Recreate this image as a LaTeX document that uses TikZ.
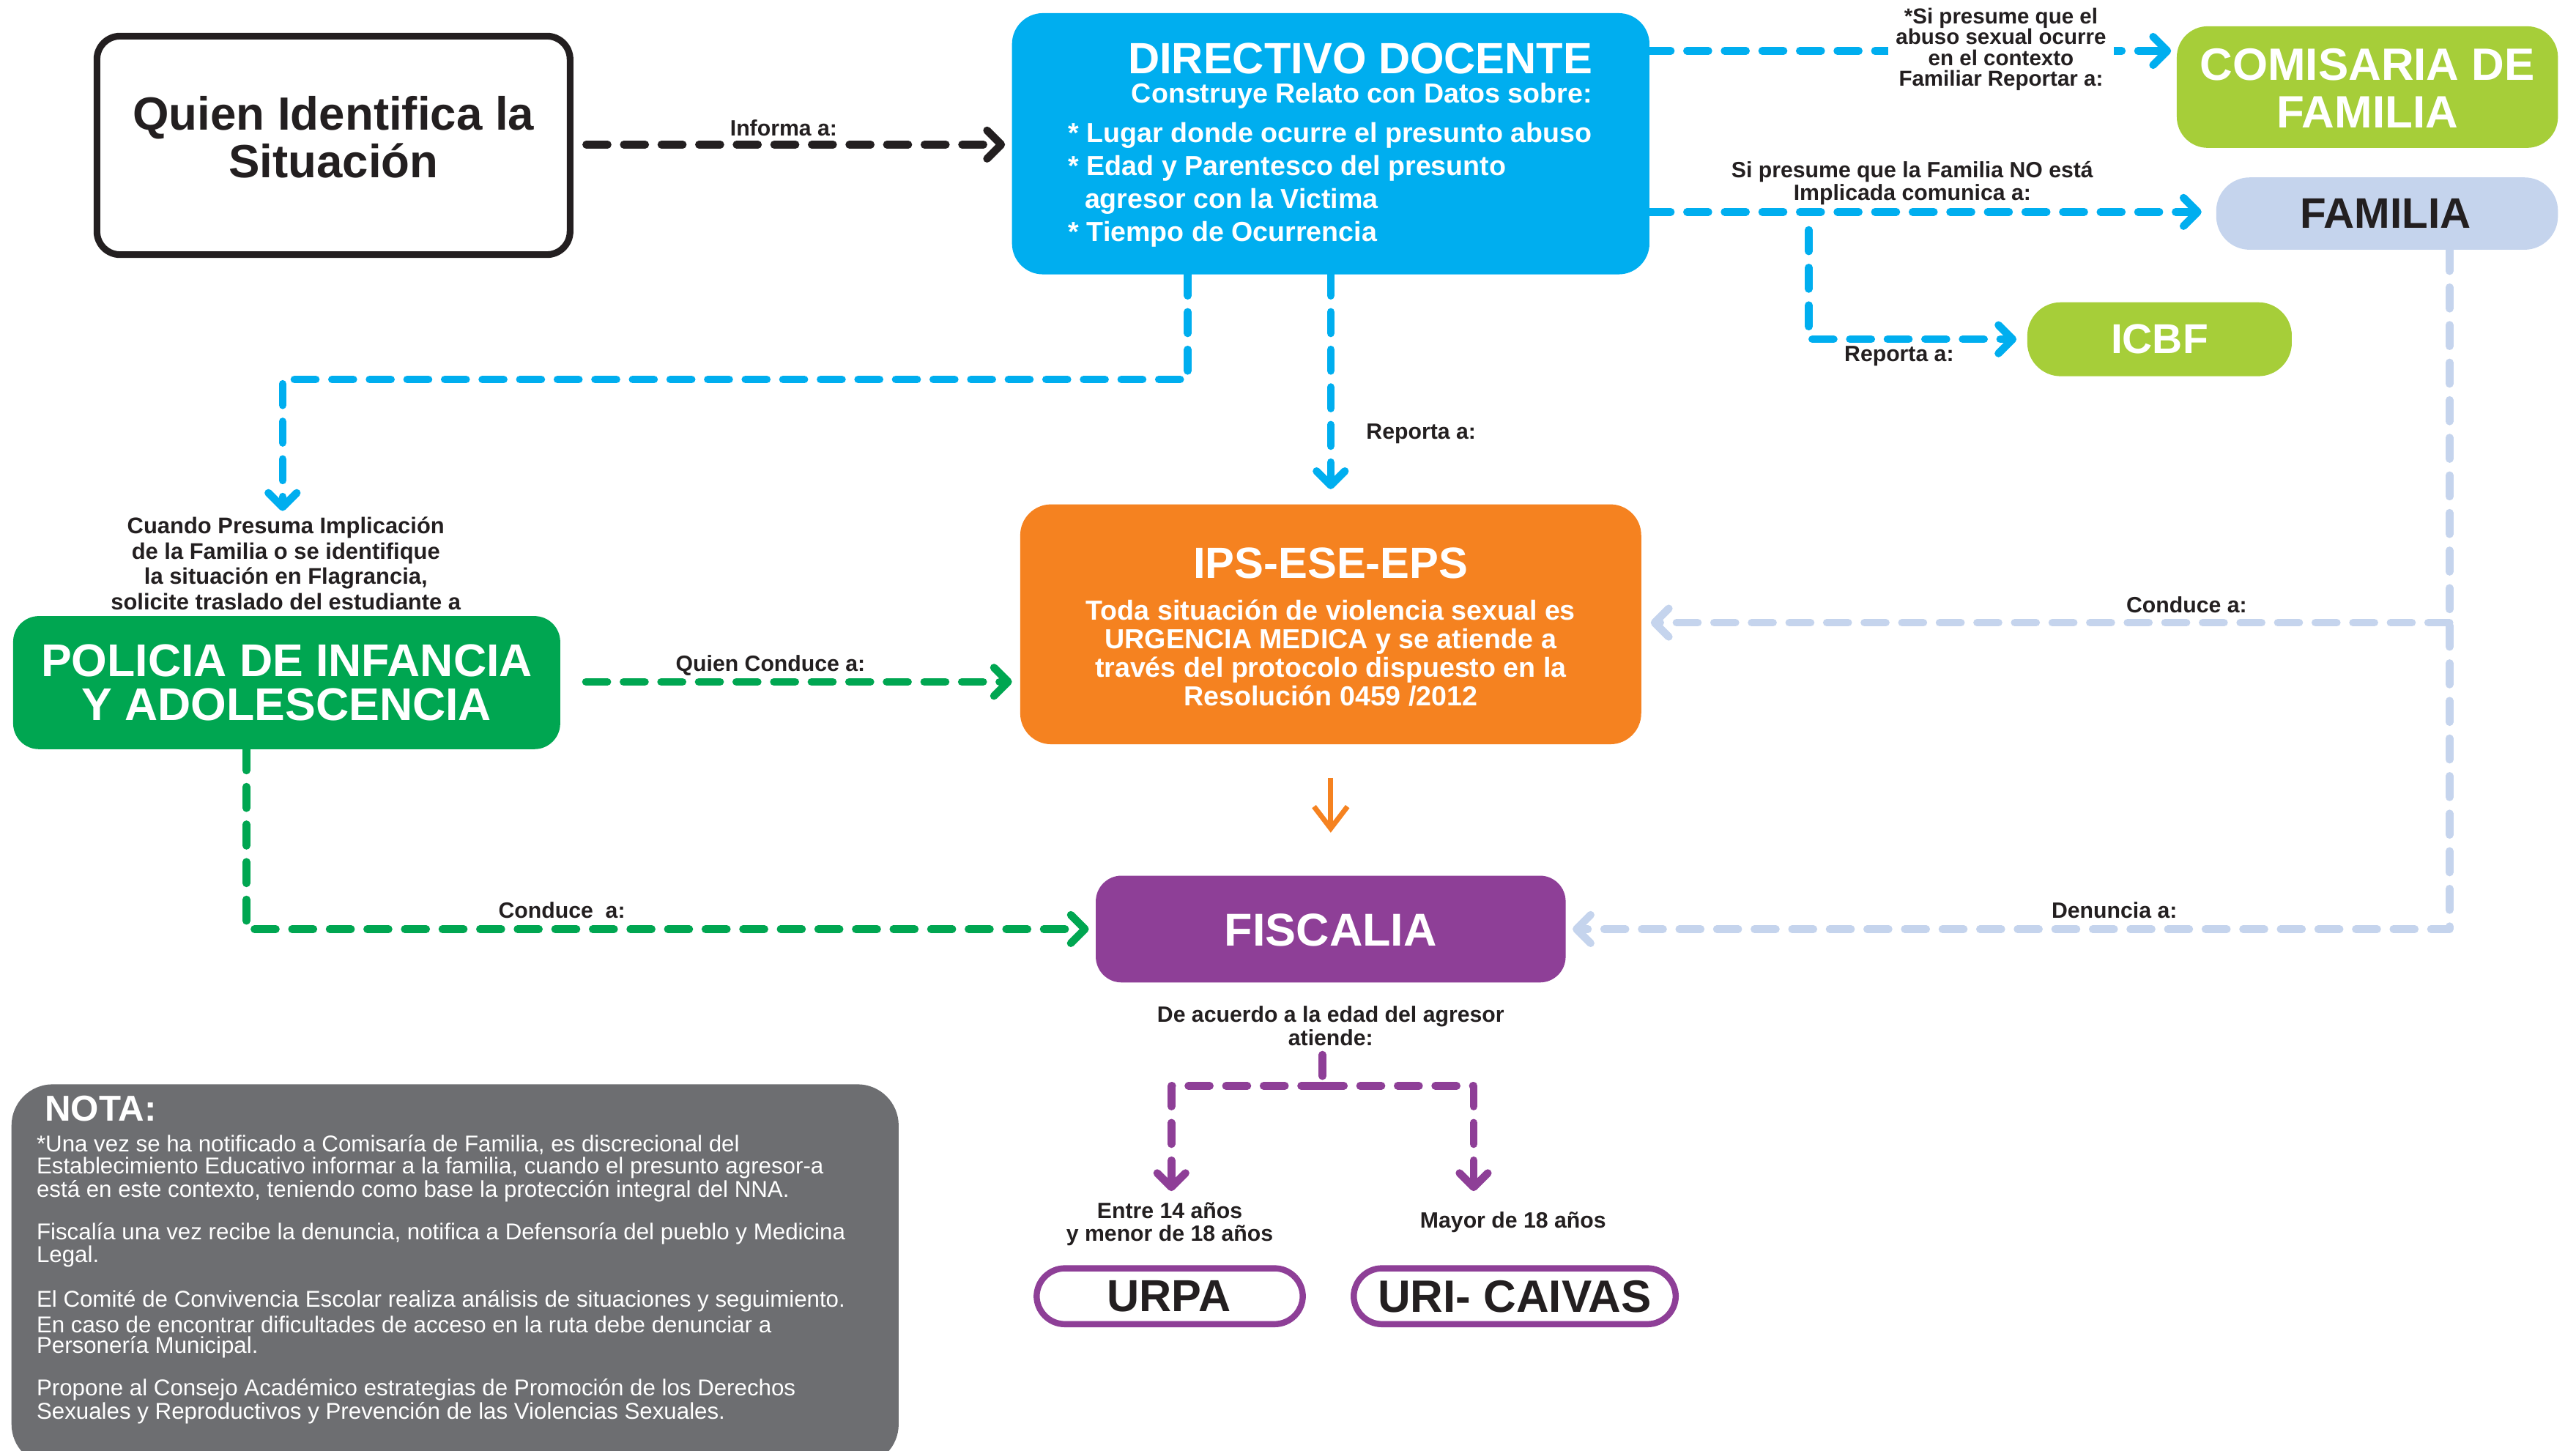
\documentclass[tikz,border=0pt]{standalone}
\usepackage{fontspec}
\setmainfont{Liberation Sans}
\usetikzlibrary{arrows.meta,fit}
\definecolor{cyanC}{HTML}{00AEEF}
\definecolor{limeC}{HTML}{A6CE39}
\definecolor{lblueC}{HTML}{C5D4ED}
\definecolor{orangeC}{HTML}{F58220}
\definecolor{greenC}{HTML}{00A651}
\definecolor{purpleC}{HTML}{8E3F97}
\definecolor{grayC}{HTML}{6D6E71}
\definecolor{inkC}{HTML}{231F20}
\newcommand\fsz[2]{\fontsize{#1}{#2}\selectfont}
\tikzset{
  flow/.style={line width=3pt, line cap=round, line join=round,
    dash pattern=on 8.3pt off 6.3pt,
    -{Straight Barb[round,length=5.5pt,width=11pt]}},
  lbl/.style={inner sep=0pt, text=inkC, align=center, font=\bfseries\fsz{8.6}{9.6}},
  wtxt/.style={inner sep=0pt, text=white, align=center},
  ktxt/.style={inner sep=0pt, text=inkC, align=center},
  panel/.style={inner sep=0pt, rounded corners=12pt, draw=none},
  outl/.style={inner sep=0pt, rounded corners=11pt, draw=purpleC, line width=2.4pt, fill=white},
  notatxt/.style={inner sep=0pt, anchor=west, text=white, font=\fsz{8.9}{10}},
}
\begin{document}
\begin{tikzpicture}[x=0.02243cm, y=-0.02243cm]
\useasboundingbox (0,0) rectangle (1568,883);

% ---------- boxes ----------
\node[fit={(59,22) (347,155)}, inner sep=0pt, rounded corners=9pt, draw=inkC, line width=2.6pt,
  fill=white] (quien) {};
\node[ktxt, font=\bfseries\fsz{18.1}{18.6}] (quienT) at (203,83.5) {Quien Identifica la\\Situación};

\node[panel, fill=cyanC, fit={(616,8) (1004,167)}] (dir) {};
\node[wtxt, font=\bfseries\fsz{17}{20}] (dirT) at (828,35.5) {DIRECTIVO DOCENTE};
\node[wtxt, font=\bfseries\fsz{10.7}{12}] (dirS) at (829,58.5) {Construye Relato con Datos sobre:};
\node[wtxt, anchor=west, font=\bfseries\fsz{10.7}{12}] (dirL1) at (650,82.5) {* Lugar donde ocurre el presunto abuso};
\node[wtxt, anchor=west, font=\bfseries\fsz{10.7}{12}] (dirL2) at (650,102.5) {* Edad y Parentesco del presunto};
\node[wtxt, anchor=west, font=\bfseries\fsz{10.7}{12}] (dirL3) at (660,122.5) {agresor con la Victima};
\node[wtxt, anchor=west, font=\bfseries\fsz{10.7}{12}] (dirL4) at (650,142.5) {* Tiempo de Ocurrencia};

\node[panel, fill=limeC, fit={(1325,16) (1557,90)}] (com) {};
\node[wtxt, font=\bfseries\fsz{17.6}{18.5}] (comT) at (1441,53.5) {COMISARIA DE\\FAMILIA};
\node[panel, fill=lblueC, rounded corners=13pt, fit={(1349,108) (1557,152)}] (fam) {};
\node[ktxt, font=\bfseries\fsz{16.6}{18}] (famT) at (1452,130) {FAMILIA};
\node[panel, fill=limeC, rounded corners=13pt, fit={(1234,184) (1395,229)}] (icbf) {};
\node[wtxt, font=\bfseries\fsz{16.2}{18}] (icbfT) at (1314.5,206.5) {ICBF};

\node[panel, fill=orangeC, fit={(621,307) (999,453)}] (ips) {};
\node[wtxt, font=\bfseries\fsz{17}{20}] (ipsT) at (810,343) {IPS-ESE-EPS};
\node[wtxt, font=\bfseries\fsz{10.7}{11.05}] (ipsB) at (810,397.5)
  {Toda situación de violencia sexual es\\URGENCIA MEDICA y se atiende a\\través del protocolo dispuesto en la\\Resolución 0459 /2012};

\node[panel, fill=greenC, rounded corners=10pt, fit={(8,375) (341,456)}] (pol) {};
\node[wtxt, font=\bfseries\fsz{17.8}{16.9}] (polT) at (174.5,415.5) {POLICIA DE INFANCIA\\Y ADOLESCENCIA};

\node[panel, fill=purpleC, rounded corners=10pt, fit={(667,533) (953,598)}] (fis) {};
\node[wtxt, font=\bfseries\fsz{17.9}{20}] (fisT) at (810,566) {FISCALIA};

\node[outl, fit={(631,772) (793,806)}] (urpa) {};
\node[ktxt, font=\bfseries\fsz{17.4}{20}] (urpaT) at (711.5,789) {URPA};
\node[outl, fit={(824,772) (1020,806)}] (uri) {};
\node[ktxt, font=\bfseries\fsz{17.6}{20}] (uriT) at (922,789) {URI- CAIVAS};

% ---------- nota ----------
\node[panel, fill=grayC, rounded corners=16pt, fit={(7,660) (547,892)}] (nota) {};
\node[wtxt, anchor=west, font=\bfseries\fsz{14}{16}] (notaT) at (27,675) {NOTA:};
\node[notatxt] (n1) at (22,697) {*Una vez se ha notificado a Comisaría de Familia, es discrecional del};
\node[notatxt] (n2) at (22,711) {Establecimiento Educativo informar a la familia, cuando el presunto agresor-a};
\node[notatxt] (n3) at (22,725) {está en este contexto, teniendo como base la protección integral del NNA.};
\node[notatxt] (n4) at (22,751) {Fiscalía una vez recibe la denuncia, notifica a Defensoría del pueblo y Medicina};
\node[notatxt] (n5) at (22,765) {Legal.};
\node[notatxt] (n6) at (22,792) {El Comité de Convivencia Escolar realiza análisis de situaciones y seguimiento.};
\node[notatxt] (n7) at (22,806) {En caso de encontrar dificultades de acceso en la ruta debe denunciar a};
\node[notatxt] (n8) at (22,820) {Personería Municipal.};
\node[notatxt] (n9) at (22,846) {Propone al Consejo Académico estrategias de Promoción de los Derechos};
\node[notatxt] (n10) at (22,860) {Sexuales y Reproductivos y Prevención de las Violencias Sexuales.};

% ---------- coordinates ----------
\coordinate (q1) at (349,88);
\coordinate (c1) at (1004,31);
\coordinate (c2) at (1004,129);
\coordinate (c3) at (1101,140);
\coordinate (c4) at (723,167);
\coordinate (c5) at (172,311);
\coordinate (c6) at (810,167);
\coordinate (g1) at (341,415);
\coordinate (g2) at (150,456);
\coordinate (b1) at (1491,152);
\coordinate (b2) at (1491,379);
\coordinate (p0) at (805,642);
\coordinate (pm) at (805,661);
\coordinate (pL) at (713,725);
\coordinate (pR) at (897,725);

% ---------- connectors ----------
\draw[flow, draw=inkC, shorten <=5pt, shorten >=2.5pt] (q1) -- (dir.west |- q1);

\draw[flow, draw=cyanC, shorten >=2pt] (c1) -- (com.west |- c1);
\draw[flow, draw=cyanC, shorten >=5.5pt] (c2) -- (fam.west |- c2);
\draw[flow, draw=cyanC, shorten >=4pt] (c3) |- (icbf.west);
\draw[flow, draw=cyanC] (c4) -- ++(0,64) -| (c5);
\draw[flow, draw=cyanC, shorten >=5.7pt] (c6) -- (ips.north);

\draw[flow, draw=greenC, shorten <=10pt, shorten >=3pt] (g1) -- (ips.west |- g1);
\draw[flow, draw=greenC, shorten >=2.5pt] (g2) |- (fis.west);

\draw[flow, draw=lblueC, shorten >=2.5pt] (b1) |- (fis.east);
\draw[flow, draw=lblueC, shorten >=3.5pt] (b2) -- (ips.east |- b2);

\draw[draw=orangeC, line width=2pt, shorten <=12.8pt, shorten >=16.5pt,
  -{Straight Barb[length=8.5pt,width=13pt]}] (ips.south) -- (fis.north);

\draw[flow, draw=purpleC, -] (p0) -- (pm);
\draw[flow, draw=purpleC] (pm) -| (pL);
\draw[flow, draw=purpleC] (pm) -| (pR);

% ---------- labels ----------
\node[lbl] (lInf) at (477,78) {Informa a:};
\node[lbl, fill=white, inner sep=3pt, font=\bfseries\fsz{8.4}{8.1}] (lCom) at (1218,30)
  {*Si presume que el\\abuso sexual ocurre\\en el contexto\\Familiar Reportar a:};
\node[lbl, font=\bfseries\fsz{8.6}{8.9}] (lFam) at (1164,111.5) {Si presume que la Familia NO está\\Implicada comunica a:};
\node[lbl] (lIcbf) at (1156,217) {Reporta a:};
\node[lbl, font=\bfseries\fsz{8.8}{9.8}] (lPol) at (174,343)
  {Cuando Presuma Implicación\\de la Familia o se identifique\\la situación en Flagrancia,\\solicite traslado del estudiante a};
\node[lbl] (lIps) at (865,264) {Reporta a:};
\node[lbl] (lQc) at (469,405) {Quien Conduce a:};
\node[lbl] (lCon) at (342,554) {Conduce\ \ a:};
\node[lbl] (lCon2) at (1331,368) {Conduce a:};
\node[lbl] (lDen) at (1287,554) {Denuncia a:};
\node[lbl, font=\bfseries\fsz{8.6}{8.9}] (lEdad) at (810,624.5) {De acuerdo a la edad del agresor\\atiende:};
\node[lbl, font=\bfseries\fsz{8.6}{8.9}] (lEnt) at (712,745) {Entre 14 años\\y menor de 18 años};
\node[lbl] (lMay) at (921,744) {Mayor de 18 años};
\end{tikzpicture}
\end{document}
